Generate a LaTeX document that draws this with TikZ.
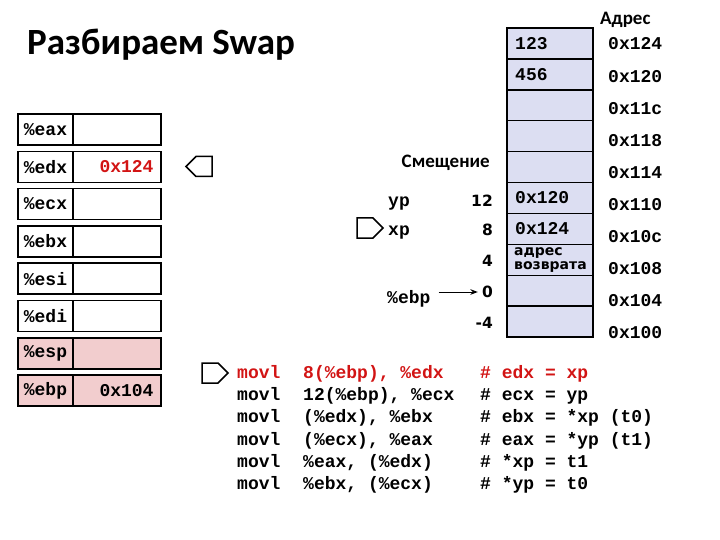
\documentclass[tikz,border=0pt]{standalone}
\usepackage{fontspec}
\setmainfont{Carlito}
\setmonofont{Liberation Mono}
\newfontfamily\verdana{DejaVu Sans}
\usetikzlibrary{arrows.meta,shapes.symbols}
\definecolor{memfill}{RGB}{220,222,242}
\definecolor{regpink}{RGB}{242,205,206}
\definecolor{codered}{RGB}{210,20,20}

\begin{document}
\begin{tikzpicture}[x=1pt, y=-1pt,
    cell/.style={draw, line width=1.5pt, fill=memfill,
                 minimum width=86pt, minimum height=30.9pt, inner sep=0pt},
    mono/.style={font=\fontsize{18}{20}\selectfont\ttfamily\bfseries, inner sep=0pt},
    reglbl/.style={draw, line width=1.5pt, minimum width=55pt,
                   minimum height=31pt, inner sep=0pt, mono},
    regval/.style={draw, line width=1.5pt, minimum width=88pt,
                   minimum height=31pt, inner sep=0pt},
    hdr/.style={font=\fontsize{19}{22}\selectfont\bfseries, inner sep=0pt},
    offs/.style={font=\fontsize{15.5}{18}\selectfont\verdana\bfseries, anchor=east, inner sep=0pt},
    ptr/.style={draw, line width=1.5pt, signal, minimum width=26pt,
                minimum height=20pt, inner sep=0pt},
    arr/.style={-{Stealth}, line width=1pt}
  ]
  \useasboundingbox (0,0) rectangle (720,540);

  % title
  \node[font=\fontsize{37}{40}\selectfont\bfseries, anchor=base west, inner sep=0pt]
    (title) at (27,55) {Разбираем Swap};

  % stack memory
  \foreach \txt [count=\i from 0] in {123,456,{},{},{},0x120,0x124,{},{},{}}
    \node[cell] (m\i) at (550,43.5+30.9*\i) {};
  \foreach \txt [count=\i from 0] in {123,456,{},{},{},0x120,0x124,{},{},{}}
    \node[mono, anchor=base west] (mt\i) at (515,49.5+30.9*\i) {\txt};
  \node[font=\fontsize{14}{14}\selectfont\verdana\bfseries, align=left,
        anchor=west, inner sep=0pt] (ret) at (514,259.8) {адрес\\возврата};

  % addresses
  \node[hdr, anchor=west] (addrhdr) at (600,20) {Адрес};
  \foreach \a [count=\i from 0] in {124,120,11c,118,114,110,10c,108,104,100}
    \node[mono, anchor=base west] (a\i) at (608,50+32.1*\i) {0x\a};

  % offsets from %ebp
  \node[hdr, anchor=east] (offhdr) at (490,163) {Смещение};
  \node[offs] (off12) at (493,201) {12};
  \node[offs] (off8)  at (493,230) {8};
  \node[offs] (off4)  at (493,261) {4};
  \node[offs] (off0)  at (493,292) {0};
  \node[offs] (offm4) at (493,323) {-4};
  \node[mono, anchor=base west] (yp) at (388,207) {yp};
  \node[mono, anchor=base west] (xp) at (388,236) {xp};
  \node[mono, anchor=base west] (ebplbl) at (387,303) {\%ebp};
  \draw[arr] (ebplbl.east |- off0) ++(8,0) -- ([xshift=-4pt]off0.west);

  % registers
  \foreach \r [count=\i from 0] in {eax,edx,ecx,ebx,esi,edi}{
    \node[reglbl] (l\r) at (45.5,129.5+37.3*\i) {\%\r};
    \node[regval] (v\r) at (117,129.5+37.3*\i) {};
  }
  \foreach \r [count=\i from 6] in {esp,ebp}{
    \node[reglbl, fill=regpink] (l\r) at (45.5,129.5+37.3*\i) {\%\r};
    \node[regval, fill=regpink] (v\r) at (117,129.5+37.3*\i) {};
  }
  \node[mono, anchor=east, text=codered] (edxval) at ([xshift=-8pt]vedx.east) {0x124};
  \node[mono, anchor=east] (ebpval) at ([xshift=-8pt]vebp.east) {0x104};

  % pointers
  \node[ptr, signal to=west] (pedx) at (204,166.5) {};
  \node[ptr, signal to=east] (pxp)  at (365,228) {};
  \node[ptr, signal to=east] (pcode) at (210,373) {};

  % code
  \foreach \op/\args/\cmt/\col [count=\i from 0] in {
      movl/{8(\%ebp), \%edx}/{\# edx = xp}/codered,
      movl/{12(\%ebp), \%ecx}/{\# ecx = yp}/black,
      movl/{(\%edx), \%ebx}/{\# ebx = *xp (t0)}/black,
      movl/{(\%ecx), \%eax}/{\# eax = *yp (t1)}/black,
      movl/{\%eax, (\%edx)}/{\# *xp = t1}/black,
      movl/{\%ebx, (\%ecx)}/{\# *yp = t0}/black}{
    \node[mono, anchor=base west, text=\col] (op\i)  at (237,378.5+22.2*\i) {\op};
    \node[mono, anchor=base west, text=\col] (arg\i) at (303,378.5+22.2*\i) {\args};
    \node[mono, anchor=base west, text=\col] (cmt\i) at (480,378.5+22.2*\i) {\cmt};
  }
\end{tikzpicture}
\end{document}
